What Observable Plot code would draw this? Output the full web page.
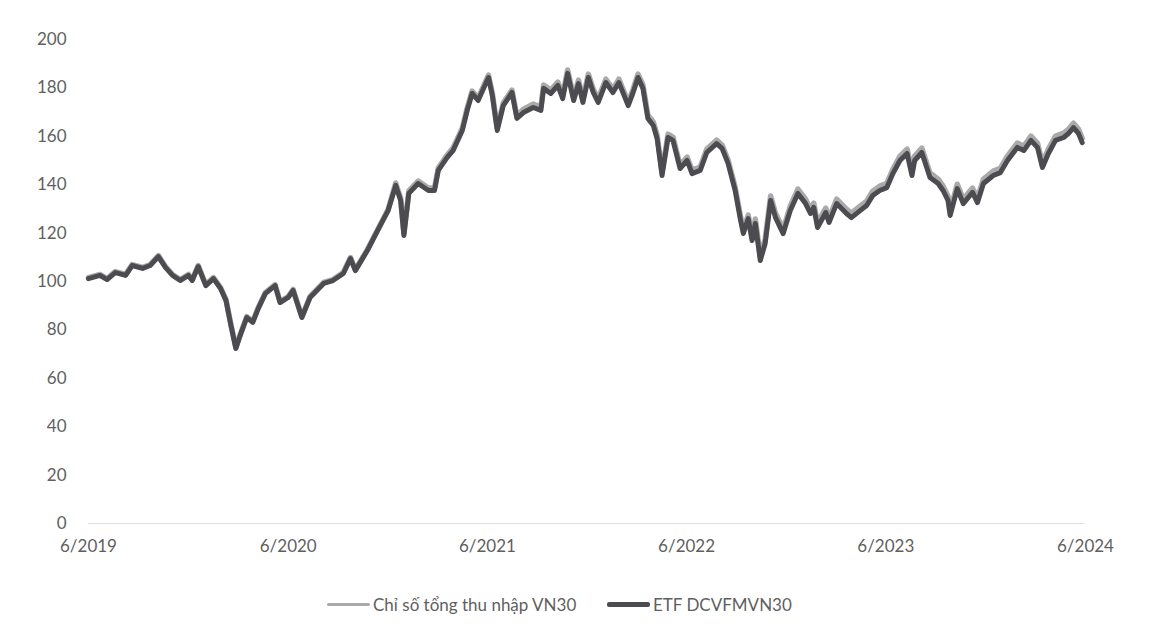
<!DOCTYPE html>
<html>
<head>
<meta charset="utf-8">
<script src="https://cdn.jsdelivr.net/npm/d3@7"></script>
<script src="https://cdn.jsdelivr.net/npm/@observablehq/plot@0.6"></script>
<style>
  html, body { margin: 0; padding: 0; background: #fff; }
  body { width: 1152px; height: 635px; position: relative; font-family: Lato, "Open Sans", sans-serif; }
  #legend { position: absolute; top: 593px; left: 0; width: 1152px; height: 22px; font-size: 17px; color: #5f5f5f; }
  .item { position: absolute; top: 0; display: flex; align-items: center; height: 22px; white-space: nowrap; }
  .sw { width: 43px; margin-right: 3px; border-radius: 2px; }
</style>
</head>
<body>
<div id="chart"></div>
<div id="legend"></div>
<script>
const dates = [
"2019-06-01","2019-06-22","2019-07-05","2019-07-20","2019-08-08","2019-08-20","2019-09-08","2019-09-22","2019-10-07","2019-10-20",
"2019-11-02","2019-11-16","2019-12-01","2019-12-08","2019-12-19","2020-01-02","2020-01-16","2020-01-29","2020-02-08","2020-02-17",
"2020-02-26","2020-03-05","2020-03-17","2020-03-28","2020-04-07","2020-04-20","2020-05-08","2020-05-17","2020-06-01","2020-06-10",
"2020-06-26","2020-07-11","2020-08-05","2020-08-22","2020-09-10","2020-09-23","2020-10-02","2020-10-24","2020-11-12","2020-12-01",
"2020-12-15","2020-12-24","2020-12-30","2021-01-08","2021-01-25","2021-02-13","2021-02-24","2021-03-03","2021-03-19","2021-03-30",
"2021-04-16","2021-04-25","2021-05-04","2021-05-15","2021-06-03","2021-06-10","2021-06-19","2021-06-30","2021-07-16","2021-07-25",
"2021-08-06","2021-08-24","2021-09-07","2021-09-12","2021-09-25","2021-10-08","2021-10-17","2021-10-26","2021-11-06","2021-11-15",
"2021-11-23","2021-12-03","2021-12-12","2021-12-21","2022-01-04","2022-01-17","2022-01-28","2022-02-14","2022-02-23","2022-03-04",
"2022-03-13","2022-03-22","2022-04-01","2022-04-08","2022-04-17","2022-04-28","2022-05-07","2022-05-20","2022-06-02","2022-06-11",
"2022-06-26","2022-07-08","2022-07-26","2022-08-05","2022-08-16","2022-08-29","2022-09-08","2022-09-13","2022-09-22","2022-09-29",
"2022-10-05","2022-10-14","2022-10-23","2022-11-02","2022-11-11","2022-11-25","2022-12-08","2022-12-22","2023-01-05","2023-01-14",
"2023-01-20","2023-01-27","2023-02-11","2023-02-17","2023-03-03","2023-03-21","2023-03-30","2023-04-15","2023-04-27","2023-05-08",
"2023-05-21","2023-06-03","2023-06-14","2023-06-27","2023-07-10","2023-07-19","2023-07-24","2023-08-06","2023-08-21","2023-09-05",
"2023-09-14","2023-09-23","2023-09-27","2023-10-10","2023-10-21","2023-11-07","2023-11-16","2023-11-27","2023-12-15","2023-12-28",
"2024-01-10","2024-01-28","2024-02-09","2024-02-22","2024-03-05","2024-03-14","2024-03-25","2024-04-07","2024-04-22","2024-05-01",
"2024-05-10","2024-05-19","2024-05-26"
];

// ETF DCVFMVN30
const etfValues = [
101.2,102.5,100.8,103.7,102.5,106.6,105.4,106.6,110.3,105.8,
102.5,100.4,102.5,100.4,106.2,98.3,101.2,97.1,92.1,81.8,
72.3,77.7,85.1,83.1,88.8,95.0,98.3,91.3,93.4,96.3,
85.1,93.4,99.2,100.4,103.3,109.5,104.5,112.8,121.1,129.3,
139.7,133.5,119.0,136.4,140.5,137.6,137.6,145.9,151.2,154.1,
162.4,170.7,177.7,174.8,184.3,176.9,162.4,172.7,178.1,167.4,
169.8,171.9,170.7,179.8,177.7,181.0,175.6,186.0,174.8,181.8,
174.0,184.3,178.1,174.0,182.2,178.1,182.2,172.7,178.1,184.3,
179.8,167.4,164.5,159.0,143.8,159.5,158.3,146.7,150.0,144.6,
145.9,153.3,157.0,155.0,148.8,137.6,125.2,119.8,126.0,116.9,
124.0,108.7,115.7,133.5,126.4,119.8,129.3,136.4,132.2,128.1,
130.6,122.3,128.5,124.4,132.2,128.1,126.4,129.3,131.4,135.5,
137.6,138.8,144.6,150.0,152.9,143.8,150.0,153.3,143.0,140.5,
137.6,133.5,127.3,138.4,132.2,136.8,132.6,140.5,143.8,145.0,
150.0,155.4,154.1,158.3,155.4,147.1,152.9,158.3,159.5,161.2,
163.6,161.2,157.4
];

// Chỉ số tổng thu nhập VN30
const indexValues = [
101.6,102.9,101.2,104.1,102.9,107.0,105.8,107.0,110.7,106.2,
102.9,100.8,102.9,100.8,106.6,98.7,101.6,97.5,92.5,82.2,
72.7,78.1,85.5,83.5,89.2,95.4,98.7,91.7,93.8,96.7,
85.5,93.8,99.6,100.8,103.7,109.9,104.9,113.2,121.5,129.7,
140.7,134.5,120.0,137.4,141.5,138.6,138.6,146.9,152.2,155.1,
163.4,171.7,178.7,175.8,185.3,177.9,163.4,173.7,179.1,168.4,
171.2,173.3,172.1,181.2,179.1,182.4,177.0,187.4,176.2,183.2,
175.4,185.7,179.5,175.4,183.6,179.5,183.6,174.1,179.5,185.7,
181.2,168.8,165.9,160.4,145.2,160.9,159.7,148.1,151.4,146.0,
147.3,154.7,158.4,156.4,150.2,139.0,126.6,121.2,127.4,118.3,
125.8,110.5,117.5,135.3,128.2,121.6,131.1,138.2,134.0,129.9,
132.4,124.1,130.3,126.2,134.0,129.9,128.2,131.1,133.2,137.3,
139.4,140.6,146.4,151.8,154.7,145.6,151.8,155.1,144.8,142.3,
139.4,135.3,129.1,140.2,134.0,138.6,134.4,142.3,145.6,146.8,
151.8,157.2,155.9,160.1,157.2,148.9,154.7,160.1,161.3,163.0,
165.4,163.0,159.2
];

const seriesNames = ["Chỉ số tổng thu nhập VN30", "ETF DCVFMVN30"];
const seriesColors = ["#aaaaaa", "#4c4c50"];
const yTicks = [0, 20, 40, 60, 80, 100, 120, 140, 160, 180, 200];
const xTickLabels = ["6/2019", "6/2020", "6/2021", "6/2022", "6/2023", "6/2024"];

const xTicks = xTickLabels.map(s => { const [m, y] = s.split("/"); return new Date(Date.UTC(+y, +m - 1, 1)); });
const indexRows = dates.map((d, i) => ({date: new Date(d), value: indexValues[i], series: seriesNames[0]}));
const etfRows = dates.map((d, i) => ({date: new Date(d), value: etfValues[i], series: seriesNames[1]}));

const chart = Plot.plot({
  width: 1152,
  height: 570,
  marginLeft: 88,
  marginRight: 67,
  marginTop: 39,
  marginBottom: 47,
  style: {fontFamily: "Lato, 'Open Sans', sans-serif", fontSize: "17px", color: "#5f5f5f", background: "#fff", overflow: "visible"},
  x: {type: "utc", domain: [xTicks[0], xTicks[xTicks.length - 1]], ticks: xTicks,
      tickFormat: d => xTickLabels[xTicks.findIndex(t => +t === +d)], tickSize: 0, tickPadding: 16, label: null},
  y: {domain: [0, 200], ticks: yTicks, tickSize: 0, tickPadding: 22, label: null},
  marks: [
    Plot.ruleY([0], {stroke: "#e2e2e2", strokeWidth: 1}),
    Plot.lineY(indexRows, {x: "date", y: "value", stroke: seriesColors[0], strokeWidth: 5.5, strokeLinejoin: "round"}),
    Plot.lineY(etfRows, {x: "date", y: "value", stroke: seriesColors[1], strokeWidth: 5, strokeLinejoin: "round"})
  ]
});
document.getElementById("chart").appendChild(chart);

const legend = document.getElementById("legend");
const lefts = [327, 607];
const swH = [3, 5];
seriesNames.forEach((name, i) => {
  const item = document.createElement("div");
  item.className = "item";
  item.style.left = lefts[i] + "px";
  const sw = document.createElement("span");
  sw.className = "sw";
  sw.style.height = swH[i] + "px";
  sw.style.background = seriesColors[i];
  const tx = document.createElement("span");
  tx.textContent = name;
  item.appendChild(sw);
  item.appendChild(tx);
  legend.appendChild(item);
});
</script>
</body>
</html>
